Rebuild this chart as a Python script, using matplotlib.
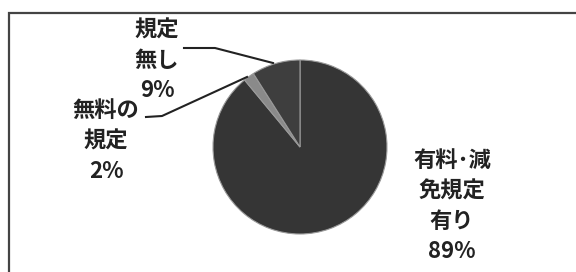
import matplotlib
matplotlib.use("Agg")
import matplotlib.pyplot as plt
from matplotlib.patches import Rectangle

plt.rcParams['font.family'] = ['Noto Sans CJK JP', 'DejaVu Sans']

labels = ["有料･減\n免規定\n有り", "無料の\n規定", "規定\n無し"]
shares = [89, 2, 9]
colors = ["#353535", "#8a8a8a", "#3e3e3e"]

fig = plt.figure(figsize=(5.76, 2.72), dpi=100)
ax = fig.add_axes([0, 0, 1, 1])
ax.set_xlim(0, 576)
ax.set_ylim(0, 272)
ax.set_aspect("equal")
ax.axis("off")

# frame around the chart (scan shows top/left edges)
ax.add_patch(Rectangle((9, -10), 580, 269, fill=False, edgecolor="#444444", lw=1.6))

wedges, _ = ax.pie(shares, colors=colors, startangle=90, counterclock=False,
                   center=(300, 125), radius=87,
                   wedgeprops=dict(edgecolor="#9a9a9a", linewidth=0.8))
ax.set_xlim(0, 576)
ax.set_ylim(0, 272)

# text labels with percentages
pos = [(452, 66), (106, 131), (157, 212)]
for lab, val, (x, y) in zip(labels, shares, pos):
    ax.text(x, y, f"{lab}\n{val}%", ha="center", va="center", fontsize=16,
            fontweight="bold", color="#222222", linespacing=1.4)

# leader lines
ax.plot([184, 215, 273], [224, 224, 209], color="#222222", lw=1.5)
ax.plot([146, 162, 247], [155, 156, 195], color="#222222", lw=1.5)

fig.savefig("out.png", dpi=100)
